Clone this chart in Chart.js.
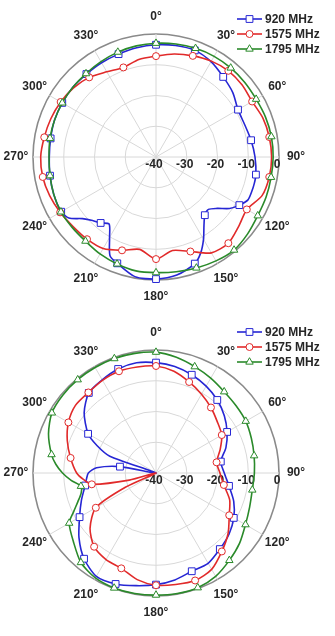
<!DOCTYPE html>
<html>
<head>
<meta charset="utf-8">
<title>Radiation patterns</title>
<script src="https://cdn.jsdelivr.net/npm/chart.js@4.4.1/dist/chart.umd.min.js"></script>
<style>
  body { margin: 0; background: #fff; }
  canvas { display: block; }
</style>
</head>
<body>
<canvas id="chartTop" width="335" height="318"></canvas>
<canvas id="chartBottom" width="335" height="318"></canvas>
<script>
// angle of each sample, degrees clockwise from the top (5 degree steps)
var angles = [0, 5, 10, 15, 20, 25, 30, 35, 40, 45, 50, 55,
	60, 65, 70, 75, 80, 85, 90, 95, 100, 105, 110, 115,
	120, 125, 130, 135, 140, 145, 150, 155, 160, 165, 170, 175,
	180, 185, 190, 195, 200, 205, 210, 215, 220, 225, 230, 235,
	240, 245, 250, 255, 260, 265, 270, 275, 280, 285, 290, 295,
	300, 305, 310, 315, 320, 325, 330, 335, 340, 345, 350, 355];
var angleLabels = ['0°', '30°', '60°', '90°', '120°', '150°', '180°', '210°', '240°', '270°', '300°', '330°'];
var radialTicks = [-40, -30, -20, -10, 0];
var seriesNames = ['920 MHz', '1575 MHz', '1795 MHz'];

// upper pattern, dB (null = not read at that angle)
var top920 = [-3.5, null, -3.2, null, -3.1, null, -4.2, null, -6.0, null, -7.4, null,
	-9.2, null, -9.3, null, -8.6, null, -7.8, null, -7.0, -6.9, -6.9, -7.0,
	-8.7, -10.8, -14.0, -15.9, -15.3, -12.8, -9.1, -5.6, -3.1, null, -1.0, null,
	-0.3, null, -0.5, null, -3.2, -4.6, -9.8, -13.4, -12.0, -10.8, -8.8, -5.4,
	-4.4, null, -4.6, null, -5.0, null, -5.3, null, -5.2, null, -4.9, null,
	-4.8, null, -4.7, null, -4.8, null, -4.6, null, -4.4, null, -3.9, null];
var top1575 = [-7.2, null, -6.0, null, -5.0, null, -4.0, null, -3.4, null, -3.5, null,
	-3.9, null, -3.0, null, -2.6, null, -2.4, null, -2.6, null, -3.3, null,
	-5.9, null, -4.9, null, -3.4, null, -4.0, null, -7.3, null, -9.1, null,
	-6.8, null, -9.5, null, -7.7, null, -5.6, null, -5.1, null, -4.8, null,
	-4.0, null, -3.2, null, -2.6, null, -2.5, null, -3.1, null, -3.6, null,
	-4.2, null, -5.0, null, -6.2, null, -8.0, null, -9.0, null, -7.8, null];
var top1795 = [-3.0, null, -2.7, null, -2.4, null, -2.2, null, -2.2, null, -2.3, null,
	-2.4, null, -2.1, null, -1.9, null, -1.9, null, -2.0, null, -1.9, null,
	-1.8, null, -1.1, null, -0.5, null, -1.0, null, -1.6, null, -2.1, null,
	-2.4, null, -2.4, null, -3.0, null, -3.6, null, -4.3, null, -4.4, null,
	-4.3, null, -4.6, null, -5.0, null, -5.2, null, -5.0, null, -4.9, null,
	-4.8, null, -4.7, null, -4.6, null, -4.2, null, -3.7, null, -3.3, null];

// lower pattern, dB
var bottom920 = [-4.1, null, -4.8, null, -6.0, null, -7.4, null, -9.0, null, -11.0, null,
	-13.3, null, -15.8, null, -18.6, null, -17.8, null, -15.9, null, -13.1, null,
	-10.8, null, -9.0, null, -7.7, null, -6.1, null, -6.0, null, -4.7, null,
	-3.7, null, -2.8, null, -1.6, null, -1.2, null, -3.6, null, -7.3, null,
	-11.3, null, -14.2, null, -16.6, -17.3, -18.0, -20.6, -28.1, -40, -24.0, -18.8,
	-14.5, null, -9.5, null, -6.0, null, -5.0, null, -4.0, null, -3.6, null];
var bottom1575 = [-5.2, null, -6.4, null, -8.5, null, -10.4, null, -12.2, null, -14.0, null,
	-15.3, null, -17.8, null, -20.0, null, -19.2, null, -17.6, null, -14.5, null,
	-12.5, null, -9.4, null, -6.7, null, -3.8, null, -2.8, null, -3.2, null,
	-3.5, null, -4.8, null, -7.0, null, -7.5, null, -8.7, null, -12.0, null,
	-17.4, -29.0, -40, -31.0, -18.8, -16.3, -14.2, null, -11.8, null, -9.3, null,
	-7.1, null, -5.8, null, -5.8, null, -5.2, null, -4.8, null, -5.0, null];
var bottom1795 = [-0.7, null, -1.8, null, -3.2, null, -4.4, null, -5.5, null, -6.0, null,
	-6.3, null, -7.0, null, -7.6, null, -8.0, null, -8.2, null, -7.6, null,
	-6.4, null, -4.5, null, -2.9, null, -1.2, null, -0.3, null, -0.2, null,
	-0.3, null, -0.2, null, -0.2, null, -0.6, null, -2.0, null, -5.0, null,
	-7.4, -10.5, -13.0, -14.8, -15.2, -12.3, -9.6, -7.3, -5.5, null, -2.8, null,
	-0.9, null, -0.5, null, -0.4, null, -0.4, null, -0.4, null, -0.5, null];

// look of the three series
var seriesColors = ['#2626d4', '#e12a2a', '#2a8a2a'];
var seriesMarkers = ['rect', 'circle', 'triangle'];
var markerSizes = [4.8, 3.5, 4.3];
var FONT = 'bold 12px "Liberation Sans", Arial, sans-serif';
var TEXT_COLOR = '#262626';

function buildDatasets(values) {
	var sets = [];
	for (var i = 0; i < values.length; i++) {
		(function(i) {
			sets.push({
				label: seriesNames[i],
				data: values[i],
				borderColor: seriesColors[i],
				borderWidth: 1.6,
				fill: false,
				tension: 0.25,
				spanGaps: true,
				order: values.length - i,
				pointStyle: seriesMarkers[i],
				pointBackgroundColor: '#fff',
				pointBorderColor: seriesColors[i],
				pointBorderWidth: 1,
				pointRadius: function(ctx) {
					// a marker every 20 degrees
					return ctx.index % 4 === 0 ? markerSizes[i] : 0;
				}
			});
		})(i);
	}
	return sets;
}

// axis texts and legend drawn around the radial scale
var polarDecor = {
	id: 'polarDecor',
	beforeDatasetsDraw: function(chart) {
		var scale = chart.scales.r;
		var ctx = chart.ctx;
		ctx.save();
		ctx.font = FONT;
		ctx.fillStyle = TEXT_COLOR;
		ctx.textAlign = 'center';
		ctx.textBaseline = 'middle';
		radialTicks.forEach(function(v) {
			var d = scale.getDistanceFromCenterForValue(v);
			ctx.fillText(String(v), scale.xCenter + d - 2, scale.yCenter + 8);
		});
		ctx.restore();
	},
	afterDraw: function(chart, args, opts) {
		var scale = chart.scales.r;
		var ctx = chart.ctx;
		ctx.save();
		ctx.font = FONT;
		ctx.fillStyle = TEXT_COLOR;
		ctx.textAlign = 'center';
		ctx.textBaseline = 'middle';
		angleLabels.forEach(function(label, i) {
			var p = scale.getPointPosition(i * 6, scale.drawingArea + 17);
			ctx.fillText(label, p.x, p.y);
		});

		// legend, top right
		ctx.textAlign = 'left';
		for (var i = 0; i < seriesNames.length; i++) {
			var y = opts.legendTop + i * 15;
			ctx.strokeStyle = seriesColors[i];
			ctx.lineWidth = 1.6;
			ctx.beginPath();
			ctx.moveTo(237, y);
			ctx.lineTo(262, y);
			ctx.stroke();
			ctx.fillStyle = '#fff';
			ctx.lineWidth = 1;
			Chart.helpers.drawPoint(ctx, {
				pointStyle: seriesMarkers[i],
				radius: markerSizes[i],
				rotation: 0,
				borderWidth: 1
			}, 249.5, y);
			ctx.fillStyle = TEXT_COLOR;
			ctx.fillText(seriesNames[i], 265, y + 0.5);
		}
		ctx.restore();
	}
};

function makeChart(canvasId, values, padding, legendTop) {
	return new Chart(document.getElementById(canvasId), {
		type: 'radar',
		data: {
			labels: angles,
			datasets: buildDatasets(values)
		},
		options: {
			responsive: false,
			animation: false,
			devicePixelRatio: 1,
			layout: { padding: padding },
			scales: {
				r: {
					min: -40,
					max: 0,
					ticks: { stepSize: 10, display: false },
					pointLabels: { display: false },
					grid: {
						circular: true,
						color: function(ctx) {
							return ctx.tick && ctx.tick.value === 0 ? '#8a8a8a' : '#d8d8d8';
						},
						lineWidth: function(ctx) {
							return ctx.tick && ctx.tick.value === 0 ? 1.6 : 1;
						}
					},
					angleLines: {
						color: '#d8d8d8',
						lineWidth: function(ctx) {
							return ctx.index % 6 === 0 ? 1 : 0;
						}
					}
				}
			},
			plugins: {
				legend: { display: false },
				tooltip: { enabled: false },
				polarDecor: { legendTop: legendTop }
			}
		},
		plugins: [polarDecor]
	});
}

makeChart('chartTop', [top920, top1575, top1795], { left: 33, right: 56, top: 34, bottom: 38 }, 19);
makeChart('chartBottom', [bottom920, bottom1575, bottom1795], { left: 33, right: 56, top: 32, bottom: 40 }, 14);
</script>
</body>
</html>
